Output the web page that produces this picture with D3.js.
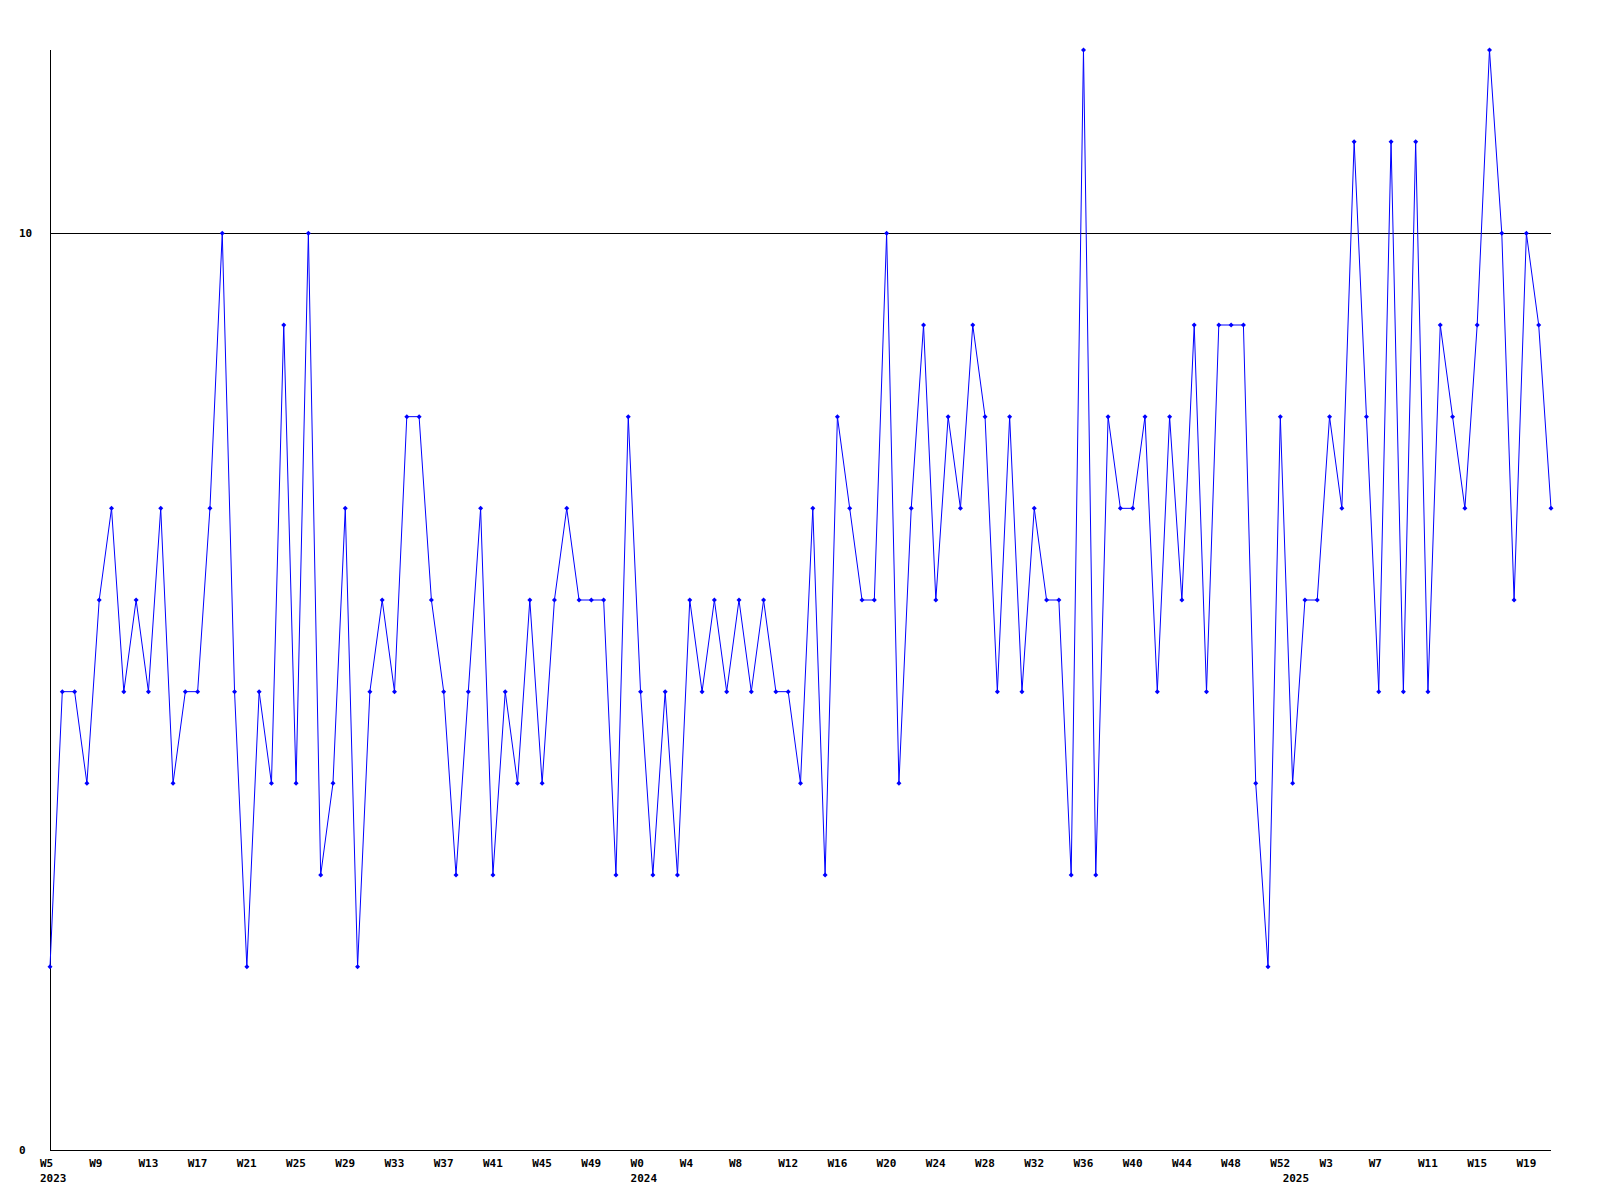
<!DOCTYPE html>
<html>
<head>
<meta charset="utf-8">
<script src="https://cdn.jsdelivr.net/npm/d3@7"></script>
<style>
  body { margin: 0; background: #fff; }
  svg { display: block; }
  text { font-family: "DejaVu Sans Mono", "Liberation Mono", monospace; font-weight: bold; font-size: 11px; fill: #000; }
</style>
</head>
<body>
<svg id="chart" width="1600" height="1200"></svg>
<script>
// Years and weeks covered
const years = [2023, 2024, 2025];
const weeks2023 = d3.range(5, 53);   // W5..W52
const weeks2024 = d3.range(0, 53);   // W0..W52
const weeks2025 = d3.range(0, 22);   // W0..W21

// Weekly values
const values2023 = [2,5,5,4,6,7,5,6,5,7,4,5,5,7,10,5,2,5,4,9,4,10,3,4,7,2,5,6,5,8,8,6,5,3,5,7,3,5,4,6,4,6,7,6,6,6,3,8];
const values2024 = [5,3,5,3,6,5,6,5,6,5,6,5,5,4,7,3,8,7,6,6,10,4,7,9,6,8,7,9,8,5,8,5,7,6,6,3,12,3,8,7,7,8,5,8,6,9,5,9,9,9,4,2,8];
const values2025 = [4,6,6,8,7,11,8,5,11,5,11,5,9,8,7,9,12,10,6,10,9,7];

// Y tick labels
const yTicks = [0, 10];
const yMax = 12;

const categories = [];
[[2023, weeks2023], [2024, weeks2024], [2025, weeks2025]].forEach(([yr, ws]) => {
  ws.forEach(w => categories.push({ year: yr, week: w, label: "W" + w }));
});
const values = values2023.concat(values2024, values2025);
const data = categories.map((c, i) => ({ ...c, idx: i, value: values[i] }));

const svg = d3.select("#chart");
const mLeft = 50, mRight = 1551, mTop = 50, mBottom = 1150;

const x = d3.scaleLinear().domain([0, data.length - 1]).range([mLeft, mRight]);
const y = d3.scaleLinear().domain([0, yMax]).range([mBottom, mTop]);

// Axes lines
svg.append("line").attr("x1", mLeft + 0.5).attr("x2", mLeft + 0.5).attr("y1", mTop).attr("y2", mBottom)
  .attr("stroke", "#000").attr("stroke-width", 1).attr("shape-rendering", "crispEdges");
svg.append("line").attr("x1", mLeft).attr("x2", mRight).attr("y1", y(0) + 0.5).attr("y2", y(0) + 0.5)
  .attr("stroke", "#000").attr("stroke-width", 1).attr("shape-rendering", "crispEdges");

// Y ticks: horizontal reference line at non-zero ticks
yTicks.forEach(t => {
  if (t !== 0) {
    svg.append("line").attr("x1", mLeft).attr("x2", mRight)
      .attr("y1", Math.round(y(t)) + 0.5).attr("y2", Math.round(y(t)) + 0.5)
      .attr("stroke", "#000").attr("stroke-width", 1).attr("shape-rendering", "crispEdges");
  }
  svg.append("text").attr("x", 19).attr("y", y(t)).attr("dy", "0.35em").text(t);
});

// X tick labels every 4 points
data.filter(d => d.idx % 4 === 0).forEach(d => {
  svg.append("text").attr("x", x(d.idx) - 10).attr("y", 1167).text(d.label);
});
// Year labels at first point of each year
years.forEach(yr => {
  const first = data.find(d => d.year === yr);
  svg.append("text").attr("x", x(first.idx) - 10).attr("y", 1182).text(yr);
});

// Line
const line = d3.line().x(d => x(d.idx)).y(d => y(d.value));
svg.append("path").datum(data).attr("d", line)
  .attr("fill", "none").attr("stroke", "#0000ff").attr("stroke-width", 1);

// Point markers
svg.append("g").selectAll("path").data(data).join("path")
  .attr("d", d => {
    const cx = x(d.idx), cy = y(d.value);
    return `M${cx - 2.5},${cy}L${cx},${cy - 2.5}L${cx + 2.5},${cy}L${cx},${cy + 2.5}Z`;
  })
  .attr("fill", "#0000ff");
</script>
</body>
</html>
